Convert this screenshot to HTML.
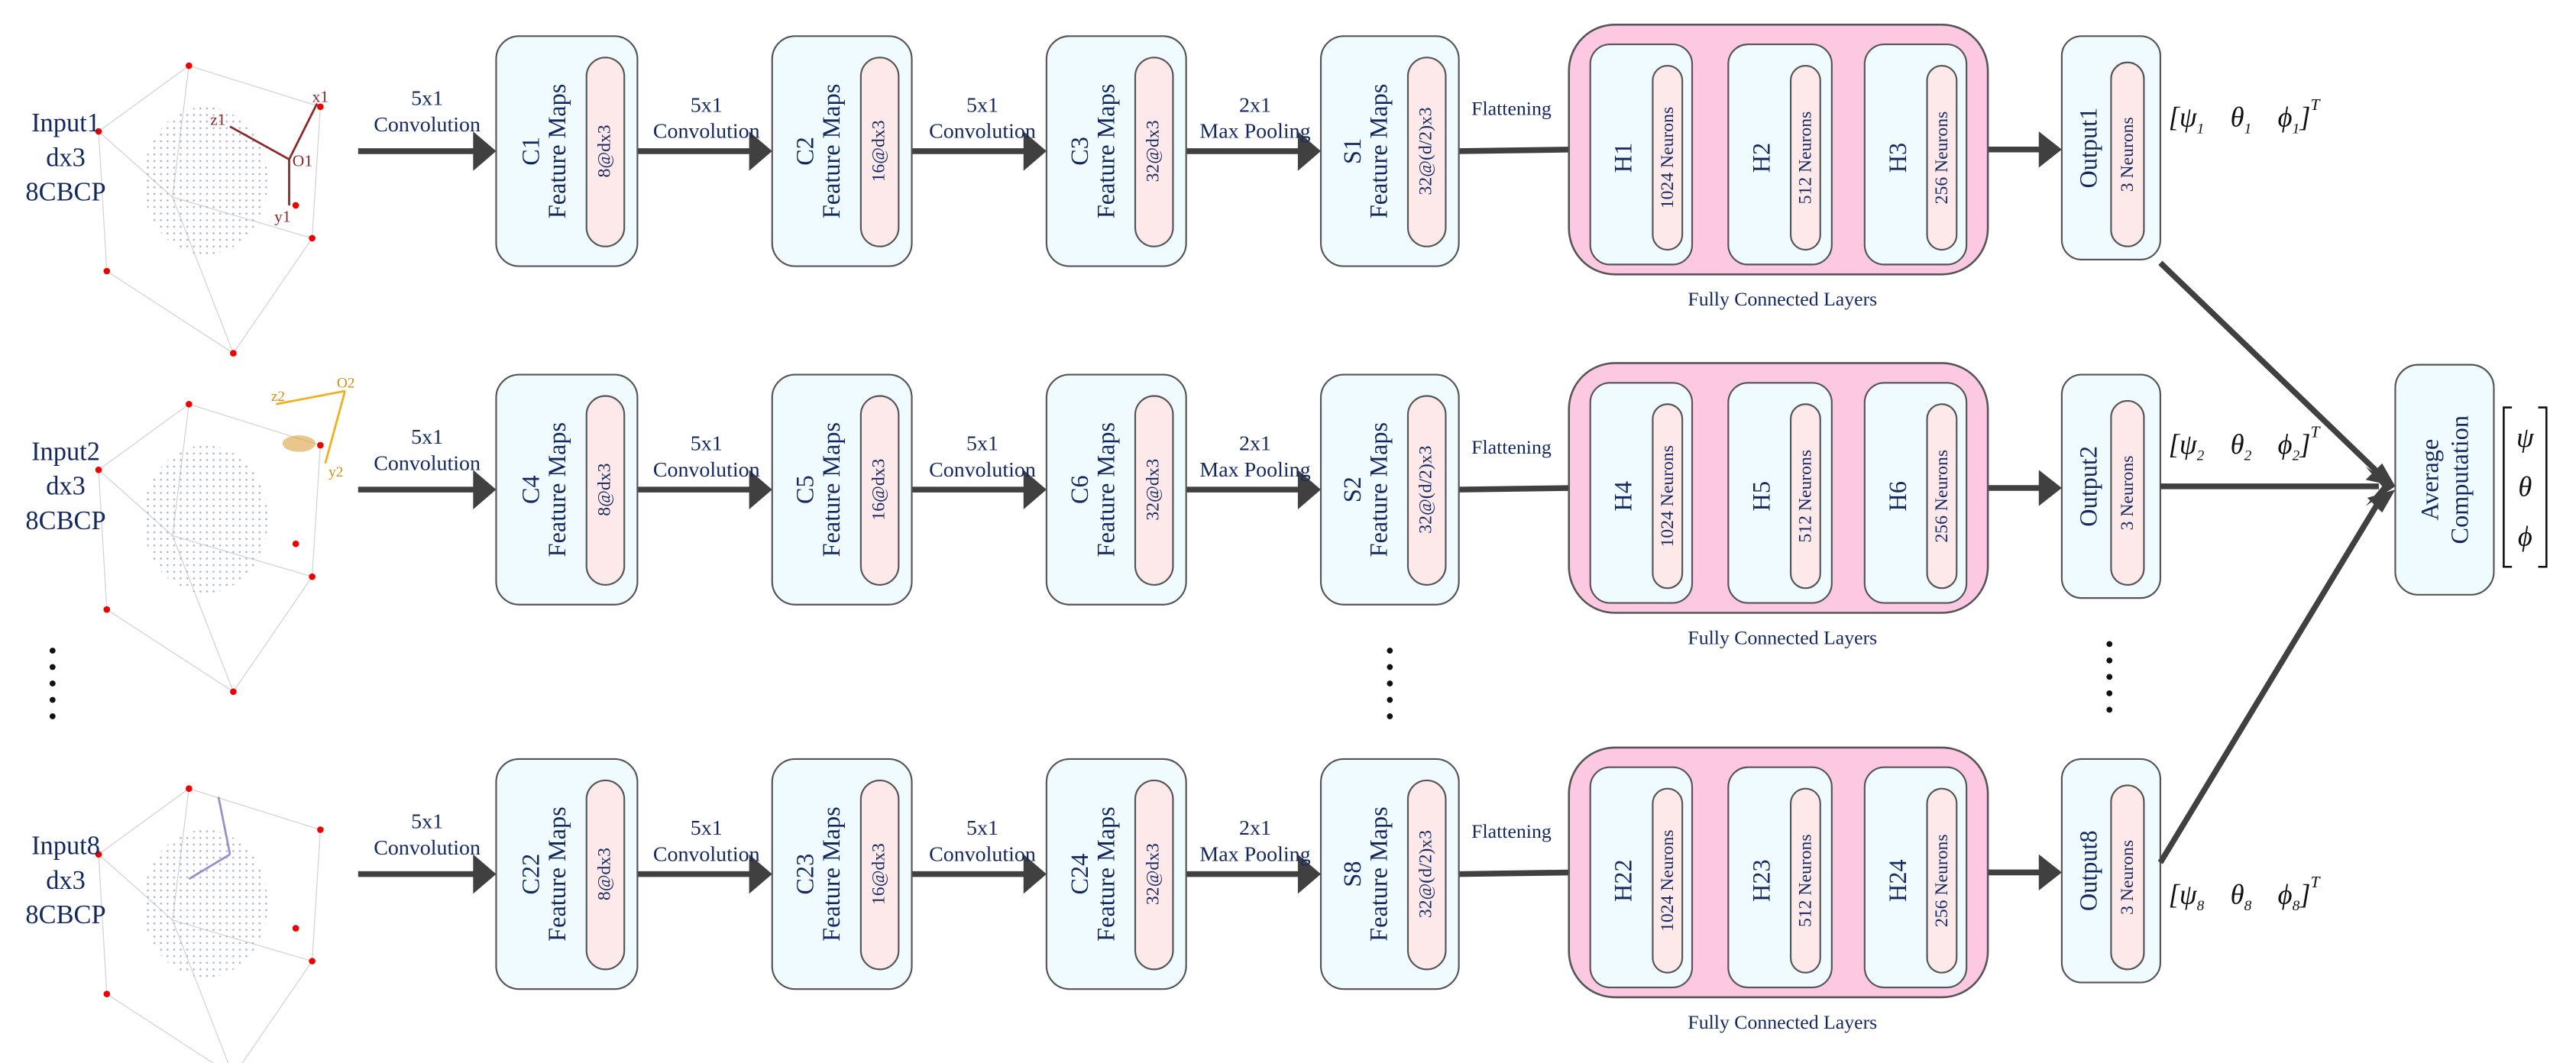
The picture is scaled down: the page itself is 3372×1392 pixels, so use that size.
<!DOCTYPE html>
<html><head><meta charset="utf-8"><style>
html,body{margin:0;padding:0;background:#fff}
svg{display:block}
text{font-family:"Liberation Serif",serif;fill:#14285f}
.b{fill:#effbfe;stroke:#555;stroke-width:1}
.p{fill:#fde9e9;stroke:#555;stroke-width:1}
.pk{fill:#fcc8e2;stroke:#555;stroke-width:1.2}
.t{font-size:15px}
.s{font-size:11px}
.l{font-size:13px;fill:#14285f}
.a{stroke:#404040;stroke-width:3.5;fill:none}
.ah{fill:#404040}
.m{font-family:"Liberation Serif",serif;font-style:italic;fill:#111;font-size:17px}
</style></head><body>
<svg width="3372" height="1392" viewBox="0 0 1568 647" preserveAspectRatio="none" xmlns="http://www.w3.org/2000/svg">
<defs>
<pattern id="dp" width="4" height="4" patternUnits="userSpaceOnUse"><circle cx="2" cy="2" r="0.6" fill="#aab0d8"/></pattern>
<g id="plot">
 <g stroke="#d4d4d4" stroke-width="0.6" fill="none">
  <polyline points="115,40 195,65 190,145 142,215 65,165 60,80 115,40"/>
  <line x1="115" y1="40" x2="105" y2="120"/><line x1="105" y1="120" x2="142" y2="215"/><line x1="105" y1="120" x2="190" y2="145"/><line x1="60" y1="80" x2="105" y2="120"/>
 </g>
 <ellipse cx="125" cy="110" rx="38" ry="45" fill="url(#dp)"/>
 <g fill="#e00"><circle cx="115" cy="40" r="2"/><circle cx="195" cy="65" r="2"/><circle cx="190" cy="145" r="2"/><circle cx="142" cy="215" r="2"/><circle cx="65" cy="165" r="2"/><circle cx="60" cy="80" r="2"/><circle cx="180" cy="125" r="2"/></g>
</g>
<g id="rowc">
 <line class="a" x1="218" y1="92" x2="290" y2="92"/><polygon class="ah" points="288,80 302,92 288,104"/>
 <line class="a" x1="388" y1="92" x2="458" y2="92"/><polygon class="ah" points="456,80 470,92 456,104"/>
 <line class="a" x1="555" y1="92" x2="625" y2="92"/><polygon class="ah" points="623,80 637,92 623,104"/>
 <line class="a" x1="722" y1="92" x2="792" y2="92"/><polygon class="ah" points="790,80 804,92 790,104"/>
 <line class="a" x1="888" y1="92" x2="958" y2="91"/><polygon class="ah" points="956,79 968,91 956,103"/>
 <line class="a" x1="1030" y1="91" x2="1042" y2="91" stroke-width="2.5"/><polygon class="ah" points="1042,83 1052,91 1042,99"/>
 <line class="a" x1="1115" y1="91" x2="1125" y2="91" stroke-width="2.5"/><polygon class="ah" points="1125,83 1135,91 1125,99"/>
 <line class="a" x1="1197" y1="91" x2="1243" y2="91" stroke-width="2.5"/><polygon class="ah" points="1241,80 1255,91 1241,102"/>
 <text class="l" x="260" y="64" text-anchor="middle">5x1</text><text class="l" x="260" y="80" text-anchor="middle">Convolution</text>
 <text class="l" x="430" y="68" text-anchor="middle">5x1</text><text class="l" x="430" y="84" text-anchor="middle">Convolution</text>
 <text class="l" x="598" y="68" text-anchor="middle">5x1</text><text class="l" x="598" y="84" text-anchor="middle">Convolution</text>
 <text class="l" x="764" y="68" text-anchor="middle">2x1</text><text class="l" x="764" y="84" text-anchor="middle">Max Pooling</text>
 <text class="l" x="920" y="70" text-anchor="middle" style="font-size:12px">Flattening</text>
 <rect class="b" x="302" y="22" width="86" height="140" rx="14"/><rect class="p" x="357" y="35" width="23" height="115" rx="11.5"/>
 <rect class="b" x="470" y="22" width="85" height="140" rx="14"/><rect class="p" x="524" y="35" width="23" height="115" rx="11.5"/>
 <rect class="b" x="637" y="22" width="85" height="140" rx="14"/><rect class="p" x="691" y="35" width="23" height="115" rx="11.5"/>
 <rect class="b" x="804" y="22" width="84" height="140" rx="14"/><rect class="p" x="857" y="35" width="23" height="115" rx="11.5"/>
 <rect class="pk" x="955" y="15" width="255" height="152" rx="28"/>
 <rect class="b" x="968" y="27" width="62" height="134" rx="12"/><rect class="p" x="1006" y="40" width="18" height="112" rx="9"/>
 <rect class="b" x="1052" y="27" width="63" height="134" rx="12"/><rect class="p" x="1090" y="40" width="18" height="112" rx="9"/>
 <rect class="b" x="1135" y="27" width="62" height="134" rx="12"/><rect class="p" x="1173" y="40" width="18" height="112" rx="9"/>
 <rect class="b" x="1255" y="22" width="60" height="136" rx="12"/><rect class="p" x="1285" y="38" width="20" height="112" rx="10"/>
 <text class="s" x="1085" y="186" text-anchor="middle" style="font-size:12px">Fully Connected Layers</text>
 <g text-anchor="middle" dominant-baseline="central">
  <text class="s" transform="translate(1015,96) rotate(-90)">1024 Neurons</text>
  <text class="s" transform="translate(1099,96) rotate(-90)">512 Neurons</text>
  <text class="s" transform="translate(1182,96) rotate(-90)">256 Neurons</text>
  <text class="s" transform="translate(1295,94) rotate(-90)">3 Neurons</text>
  <text class="s" transform="translate(368,92) rotate(-90)">8@dx3</text>
  <text class="s" transform="translate(535,92) rotate(-90)">16@dx3</text>
  <text class="s" transform="translate(702,92) rotate(-90)">32@dx3</text>
  <text class="s" transform="translate(868,92) rotate(-90)">32@(d/2)x3</text>
  <text class="t" transform="translate(339,92) rotate(-90)">Feature Maps</text>
  <text class="t" transform="translate(506,92) rotate(-90)">Feature Maps</text>
  <text class="t" transform="translate(673,92) rotate(-90)">Feature Maps</text>
  <text class="t" transform="translate(839,92) rotate(-90)">Feature Maps</text>
 </g>
</g>
</defs>

<use href="#plot"/>
<use href="#rowc"/>
<g text-anchor="middle" dominant-baseline="central">
 <text class="t" transform="translate(323,92) rotate(-90)">C1</text><text class="t" transform="translate(490,92) rotate(-90)">C2</text><text class="t" transform="translate(657,92) rotate(-90)">C3</text><text class="t" transform="translate(823,92) rotate(-90)">S1</text>
 <text class="t" transform="translate(988,96) rotate(-90)">H1</text><text class="t" transform="translate(1072,96) rotate(-90)">H2</text><text class="t" transform="translate(1155,96) rotate(-90)">H3</text><text class="t" transform="translate(1271,90) rotate(-90)">Output1</text>
</g>
<text class="t" x="40" y="80" text-anchor="middle" style="font-size:16px">Input1</text><text class="t" x="40" y="101" text-anchor="middle" style="font-size:16px">dx3</text><text class="t" x="40" y="122" text-anchor="middle" style="font-size:16px">8CBCP</text>
<g stroke="#8b2a2a" stroke-width="1.3" fill="#8b2a2a"><line x1="176" y1="97" x2="193" y2="63"/><line x1="176" y1="97" x2="140" y2="77"/><line x1="176" y1="97" x2="176" y2="125"/></g>
<g fill="#8b2a2a" font-size="10"><text x="190" y="62" style="fill:#8b2a2a">x1</text><text x="128" y="76" style="fill:#8b2a2a">z1</text><text x="178" y="101" style="fill:#8b2a2a">O1</text><text x="167" y="135" style="fill:#8b2a2a">y1</text></g>
<text class="m" x="1320" y="77">[ψ<tspan font-size="9" dy="4">1</tspan><tspan dx="16" dy="-4">θ</tspan><tspan font-size="9" dy="4">1</tspan><tspan dx="16" dy="-4">ϕ</tspan><tspan font-size="9" dy="4">1</tspan><tspan dy="-4">]</tspan><tspan font-size="10" dy="-10">T</tspan></text>

<g transform="translate(0,206)"><use href="#plot"/><use href="#rowc"/></g>
<g text-anchor="middle" dominant-baseline="central">
 <text class="t" transform="translate(323,298) rotate(-90)">C4</text><text class="t" transform="translate(490,298) rotate(-90)">C5</text><text class="t" transform="translate(657,298) rotate(-90)">C6</text><text class="t" transform="translate(823,298) rotate(-90)">S2</text>
 <text class="t" transform="translate(988,302) rotate(-90)">H4</text><text class="t" transform="translate(1072,302) rotate(-90)">H5</text><text class="t" transform="translate(1155,302) rotate(-90)">H6</text><text class="t" transform="translate(1271,296) rotate(-90)">Output2</text>
</g>
<text class="t" x="40" y="280" text-anchor="middle" style="font-size:16px">Input2</text><text class="t" x="40" y="301" text-anchor="middle" style="font-size:16px">dx3</text><text class="t" x="40" y="322" text-anchor="middle" style="font-size:16px">8CBCP</text>
<g stroke="#f0b020" stroke-width="1.3"><line x1="210" y1="238" x2="168" y2="246"/><line x1="210" y1="238" x2="198" y2="282"/></g>
<g fill="#e8a8" font-size="9"><ellipse cx="182" cy="270" rx="10" ry="5" fill="#d9a040" opacity="0.6"/><text x="205" y="236" style="fill:#d09010">O2</text><text x="165" y="244" style="fill:#d09010">z2</text><text x="200" y="290" style="fill:#d09010">y2</text></g>
<text class="m" x="1320" y="276">[ψ<tspan font-size="9" dy="4">2</tspan><tspan dx="16" dy="-4">θ</tspan><tspan font-size="9" dy="4">2</tspan><tspan dx="16" dy="-4">ϕ</tspan><tspan font-size="9" dy="4">2</tspan><tspan dy="-4">]</tspan><tspan font-size="10" dy="-10">T</tspan></text>

<g transform="translate(0,440)"><use href="#plot"/><use href="#rowc"/></g>
<g text-anchor="middle" dominant-baseline="central">
 <text class="t" transform="translate(323,532) rotate(-90)">C22</text><text class="t" transform="translate(490,532) rotate(-90)">C23</text><text class="t" transform="translate(657,532) rotate(-90)">C24</text><text class="t" transform="translate(823,532) rotate(-90)">S8</text>
 <text class="t" transform="translate(988,536) rotate(-90)">H22</text><text class="t" transform="translate(1072,536) rotate(-90)">H23</text><text class="t" transform="translate(1155,536) rotate(-90)">H24</text><text class="t" transform="translate(1271,530) rotate(-90)">Output8</text>
</g>
<text class="t" x="40" y="520" text-anchor="middle" style="font-size:16px">Input8</text><text class="t" x="40" y="541" text-anchor="middle" style="font-size:16px">dx3</text><text class="t" x="40" y="562" text-anchor="middle" style="font-size:16px">8CBCP</text>
<g stroke="#9a90c8" stroke-width="1.3"><line x1="140" y1="520" x2="133" y2="485"/><line x1="140" y1="520" x2="115" y2="535"/></g>
<text class="m" x="1320" y="550">[ψ<tspan font-size="9" dy="4">8</tspan><tspan dx="16" dy="-4">θ</tspan><tspan font-size="9" dy="4">8</tspan><tspan dx="16" dy="-4">ϕ</tspan><tspan font-size="9" dy="4">8</tspan><tspan dy="-4">]</tspan><tspan font-size="10" dy="-10">T</tspan></text>

<g fill="#111">
 <circle cx="32" cy="396" r="1.8"/><circle cx="32" cy="406" r="1.8"/><circle cx="32" cy="416" r="1.8"/><circle cx="32" cy="426" r="1.8"/><circle cx="32" cy="436" r="1.8"/>
 <circle cx="846" cy="396" r="1.8"/><circle cx="846" cy="406" r="1.8"/><circle cx="846" cy="416" r="1.8"/><circle cx="846" cy="426" r="1.8"/><circle cx="846" cy="436" r="1.8"/>
 <circle cx="1284" cy="392" r="1.8"/><circle cx="1284" cy="402" r="1.8"/><circle cx="1284" cy="412" r="1.8"/><circle cx="1284" cy="422" r="1.8"/><circle cx="1284" cy="432" r="1.8"/>
</g>

<line class="a" x1="1315" y1="160" x2="1450" y2="290" stroke-width="2.5"/>
<line class="a" x1="1315" y1="296" x2="1448" y2="296" stroke-width="2.5"/>
<line class="a" x1="1315" y1="525" x2="1450" y2="302" stroke-width="2.5"/>
<polygon class="ah" points="1458,296 1440,284 1450,296 1440,308"/>
<polygon class="ah" points="1458,296 1440,292 1450,282"/>
<polygon class="ah" points="1458,298 1450,312 1441,303"/>

<rect class="b" x="1458" y="222" width="60" height="140" rx="14"/>
<g text-anchor="middle" dominant-baseline="central">
 <text class="t" transform="translate(1479,292) rotate(-90)">Average</text>
 <text class="t" transform="translate(1497,292) rotate(-90)">Computation</text>
</g>
<g stroke="#111" stroke-width="1.2" fill="none"><polyline points="1529,248 1524,248 1524,345 1529,345"/><polyline points="1545,248 1550,248 1550,345 1545,345"/></g>
<text class="m" x="1537" y="272" text-anchor="middle">ψ</text>
<text class="m" x="1537" y="302" text-anchor="middle">θ</text>
<text class="m" x="1537" y="332" text-anchor="middle">ϕ</text>
</svg>
</body></html>
